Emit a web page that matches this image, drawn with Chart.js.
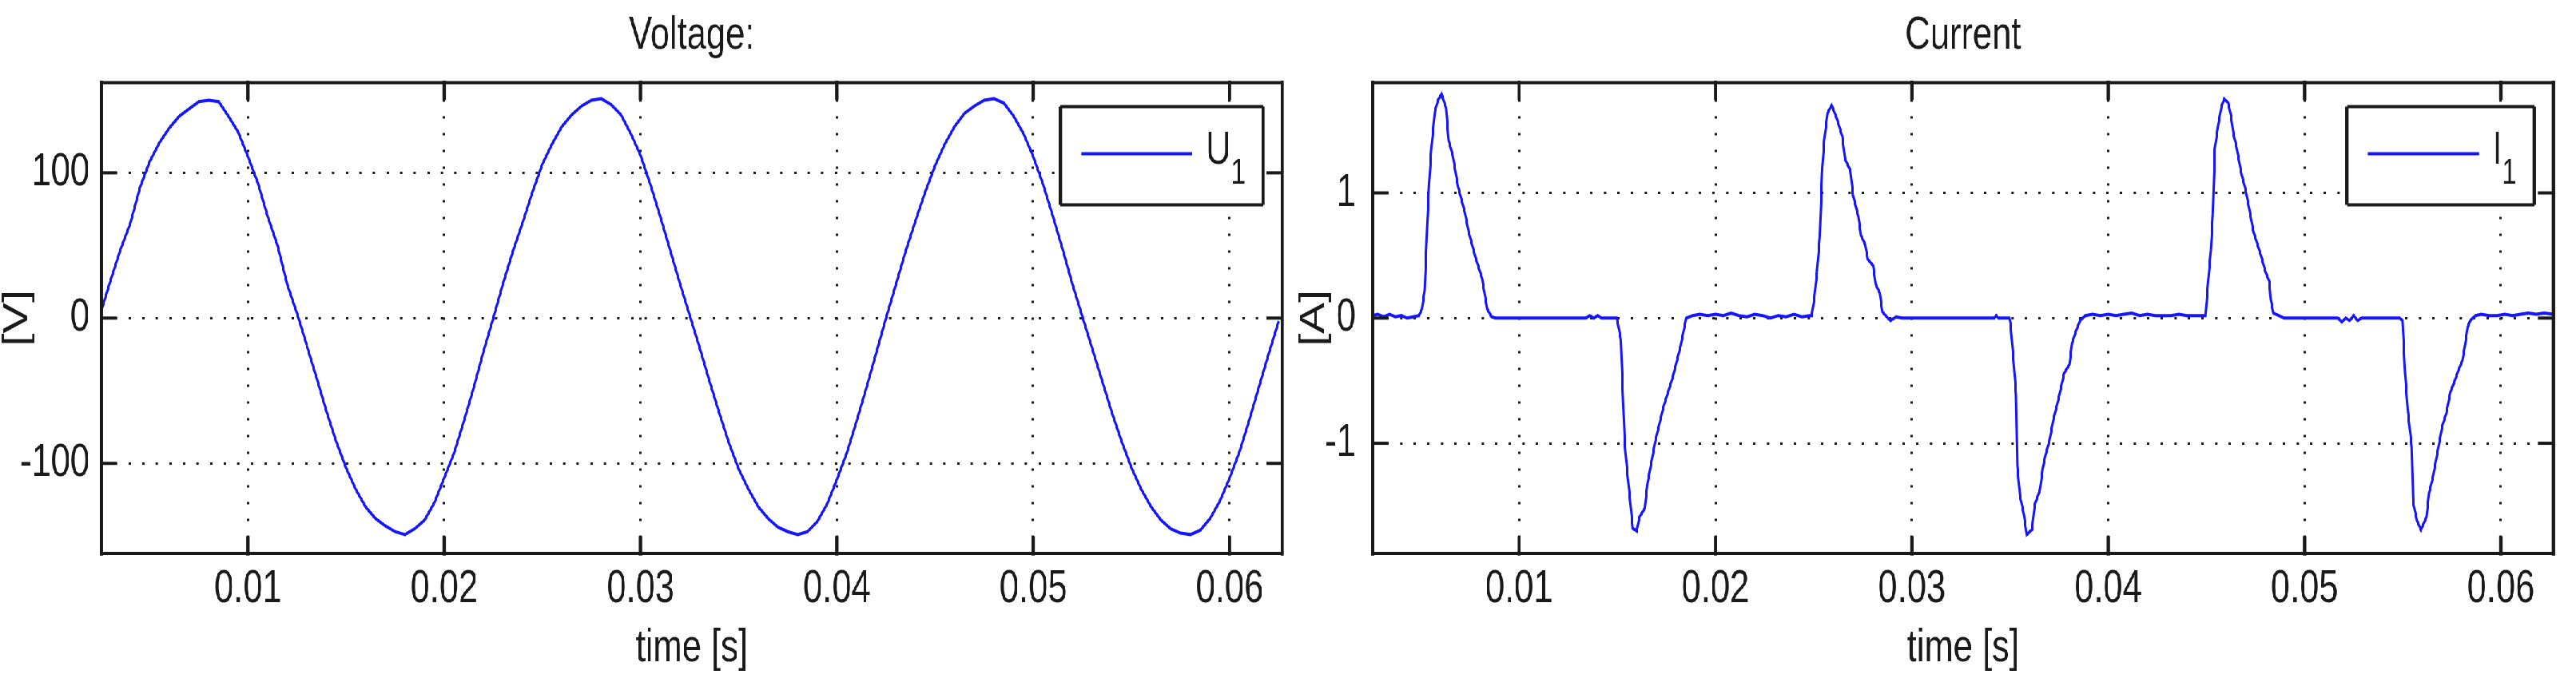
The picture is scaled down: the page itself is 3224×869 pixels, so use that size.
<!DOCTYPE html>
<html>
<head>
<meta charset="utf-8">
<title>Voltage / Current</title>
<script src="https://cdn.jsdelivr.net/npm/chart.js@4.4.1/dist/chart.umd.min.js"></script>
<style>
  html, body { margin: 0; padding: 0; background: #fff; overflow: hidden; }
  /* the source figure is a horizontally squeezed MATLAB export: draw wide, then squeeze */
  #squeeze { position: absolute; left: 0; top: 0; width: 4299px; height: 869px;
             transform: scaleX(0.75); transform-origin: 0 0; }
  .panel { position: absolute; top: 0; }
  #c-volt { left: 0; }
  #c-curr { left: 2149px; }
</style>
</head>
<body>
<div id="squeeze">
  <canvas id="c-volt" class="panel" width="2149" height="869"></canvas>
  <canvas id="c-curr" class="panel" width="2150" height="869"></canvas>
</div>
<script>
// ── Data ──────────────────────────────────────────────────────────

// shared time axis
const xMin = 0.00254;
const xMax = 0.06268;
const xTicks = [0.01, 0.02, 0.03, 0.04, 0.05, 0.06];
const xTickLabels = ['0.01', '0.02', '0.03', '0.04', '0.05', '0.06'];

// voltage U1 [V], sampled every 0.5 ms
const voltageTime = [
  0.0025, 0.0030, 0.0035, 0.0040, 0.0045, 0.0050, 0.0055, 0.0060, 0.0065, 0.0070,
  0.0075, 0.0080, 0.0085, 0.0090, 0.0095, 0.0100, 0.0105, 0.0110, 0.0115, 0.0120,
  0.0125, 0.0130, 0.0135, 0.0140, 0.0145, 0.0150, 0.0155, 0.0160, 0.0165, 0.0170,
  0.0175, 0.0180, 0.0185, 0.0190, 0.0195, 0.0200, 0.0205, 0.0210, 0.0215, 0.0220,
  0.0225, 0.0230, 0.0235, 0.0240, 0.0245, 0.0250, 0.0255, 0.0260, 0.0265, 0.0270,
  0.0275, 0.0280, 0.0285, 0.0290, 0.0295, 0.0300, 0.0305, 0.0310, 0.0315, 0.0320,
  0.0325, 0.0330, 0.0335, 0.0340, 0.0345, 0.0350, 0.0355, 0.0360, 0.0365, 0.0370,
  0.0375, 0.0380, 0.0385, 0.0390, 0.0395, 0.0400, 0.0405, 0.0410, 0.0415, 0.0420,
  0.0425, 0.0430, 0.0435, 0.0440, 0.0445, 0.0450, 0.0455, 0.0460, 0.0465, 0.0470,
  0.0475, 0.0480, 0.0485, 0.0490, 0.0495, 0.0500, 0.0505, 0.0510, 0.0515, 0.0520,
  0.0525, 0.0530, 0.0535, 0.0540, 0.0545, 0.0550, 0.0555, 0.0560, 0.0565, 0.0570,
  0.0575, 0.0580, 0.0585, 0.0590, 0.0595, 0.0600, 0.0605, 0.0610, 0.0615, 0.0620,
  0.0625
];
const voltageValues = [
     4,   26,   47,   65,   90,  108,  121,  131,  139,  144,
   149,  150,  149,  139,  128,  111,   93,   70,   50,   23,
     3,  -19,  -41,  -64,  -85, -103, -118, -130, -138, -143,
  -147, -149, -145, -139, -127, -110,  -93,  -71,  -48,  -23,
     0,   24,   46,   66,   87,  106,  120,  132,  140,  146,
   150,  151,  147,  140,  127,  112,   92,   70,   47,   24,
     2,  -20,  -43,  -65,  -86, -104, -118, -130, -138, -144,
  -147, -149, -147, -140, -128, -111,  -93,  -71,  -48,  -24,
     0,   23,   46,   67,   87,  105,  120,  132,  141,  146,
   150,  151,  148,  139,  127,  111,   92,   70,   47,   23,
     1,  -21,  -43,  -65,  -85, -103, -118, -130, -139, -145,
  -148, -149, -146, -138, -126, -110,  -92,  -70,  -47,  -24,
    -2
];
const voltageTicks = [-100, 0, 100];
const voltageTickLabels = ['-100', '0', '100'];

// current I1 [A]
const currentTime = [
  0.00254, 0.0028, 0.0031, 0.0034, 0.0037, 0.0040, 0.0043, 0.0046, 0.0049,
  0.00505, 0.00519, 0.00533, 0.00542, 0.00553, 0.00571, 0.00587, 0.00605, 0.00628, 0.00641,
  0.00662, 0.00689, 0.00723, 0.00743, 0.00777, 0.00811, 0.00838, 0.0086, 0.0088,
  0.0134, 0.0136, 0.0138, 0.0140, 0.0142,
  0.01497, 0.01504, 0.01518, 0.01524, 0.01538, 0.01552, 0.01565, 0.01579, 0.01599,
  0.01613, 0.01640, 0.01654, 0.01694, 0.01735, 0.01783, 0.01823, 0.01851, 0.01884,
  0.0192, 0.0196, 0.0200, 0.0204, 0.0208, 0.0212, 0.0216, 0.0220,
  0.0224, 0.0228, 0.0232, 0.0236, 0.0240, 0.0244, 0.0248,
  0.02490, 0.02503, 0.02517, 0.02531, 0.02544, 0.02554, 0.02571, 0.02592, 0.02619, 0.02646,
  0.02660, 0.02687, 0.02701, 0.02728, 0.02741, 0.02762, 0.02776, 0.02803, 0.02816, 0.02837,
  0.02850, 0.02878, 0.02891, 0.0292, 0.0295,
  0.0342, 0.0343, 0.0344,
  0.03497, 0.03503, 0.03517, 0.03531, 0.03537, 0.03551, 0.03571, 0.03585, 0.03612, 0.03626, 0.03653,
  0.03667, 0.03680, 0.03701, 0.03721, 0.03748, 0.03776, 0.03803, 0.03816, 0.03837, 0.03857, 0.03884,
  0.0392, 0.0396, 0.0400, 0.0404, 0.0408, 0.0412, 0.0416, 0.0420,
  0.0424, 0.0428, 0.0432, 0.0436, 0.0440, 0.0444, 0.0448,
  0.04496, 0.04509, 0.04523, 0.04533, 0.04543, 0.04560, 0.04577, 0.04591, 0.04611, 0.04625, 0.04638, 0.04652,
  0.04679, 0.04699, 0.04720, 0.04740, 0.04760, 0.04780, 0.04801, 0.04821, 0.04828, 0.04841, 0.04869, 0.04896,
  0.0517, 0.0519, 0.0521, 0.0523, 0.0525, 0.0527, 0.0529, 0.05485,
  0.05499, 0.05512, 0.05526, 0.05546, 0.05553, 0.05573, 0.05593, 0.05621, 0.05634, 0.05654, 0.05682,
  0.05702, 0.05722, 0.05743, 0.05763, 0.05783, 0.05804, 0.05817, 0.05831, 0.05844, 0.05871,
  0.0590, 0.0594, 0.0598, 0.0602, 0.0606, 0.0610, 0.0614, 0.0618, 0.0622, 0.0627
];
const currentValues = [
  0.02, 0.03, 0.01, 0.03, 0.01, 0.02, 0.00, 0.01, 0.02,
  0.07, 0.22, 0.78, 1.08, 1.35, 1.65, 1.74, 1.79, 1.68, 1.42,
  1.30, 1.05, 0.85, 0.69, 0.49, 0.32, 0.07, 0.01, 0.00,
  0.00, 0.02, 0.00, 0.02, 0.00,
  0.00, -0.05, -0.17, -0.42, -1.00, -1.25, -1.45, -1.68, -1.70,
  -1.59, -1.52, -1.32, -0.98, -0.71, -0.47, -0.22, 0.00, 0.02,
  0.03, 0.02, 0.03, 0.02, 0.04, 0.02, 0.01, 0.03,
  0.02, 0.00, 0.02, 0.01, 0.03, 0.01, 0.02,
  0.02, 0.15, 0.37, 0.64, 1.20, 1.42, 1.64, 1.70, 1.59, 1.45,
  1.27, 1.18, 0.98, 0.81, 0.66, 0.59, 0.47, 0.42, 0.27, 0.20,
  0.05, 0.00, -0.02, 0.01, 0.00,
  0.00, 0.02, 0.00,
  0.00, -0.05, -0.32, -0.61, -1.18, -1.42, -1.57, -1.73, -1.69, -1.49, -1.37,
  -1.20, -1.10, -0.98, -0.81, -0.64, -0.44, -0.37, -0.20, -0.10, -0.02, 0.02,
  0.03, 0.02, 0.03, 0.02, 0.03, 0.04, 0.02, 0.03,
  0.02, 0.02, 0.02, 0.03, 0.02, 0.02, 0.02,
  0.02, 0.29, 0.54, 0.83, 1.35, 1.54, 1.69, 1.75, 1.72, 1.62, 1.47, 1.38,
  1.15, 1.03, 0.86, 0.69, 0.59, 0.49, 0.37, 0.29, 0.15, 0.04, 0.02, 0.00,
  0.00, -0.03, 0.00, -0.02, 0.02, -0.02, 0.00, 0.00,
  -0.02, -0.44, -0.74, -1.03, -1.47, -1.62, -1.69, -1.59, -1.40, -1.27, -1.03,
  -0.86, -0.76, -0.59, -0.51, -0.42, -0.34, -0.22, -0.07, -0.02, 0.02,
  0.03, 0.02, 0.02, 0.03, 0.02, 0.03, 0.04, 0.03, 0.04, 0.03
];
const currentTicks = [-1, 0, 1];
const currentTickLabels = ['-1', '0', '1'];


// ── Look ─────────────────────────────────────────────────────────
const SQ = 0.75;                                   // same factor as the CSS scaleX
const FONT = "'Liberation Sans', Arial, sans-serif";
const INK = '#1a1a1a';
const BLUE = '#1515ff';
const FS = 58;


// Frame, with MATLAB style inward ticks on all four sides
const matlabFrame = {
  id: 'matlabFrame',
  afterDatasetsDraw(chart) {
    const { ctx, chartArea: a, scales: { x, y } } = chart;
    const seg = (x1, y1, x2, y2) => {
      ctx.beginPath(); ctx.moveTo(x1, y1); ctx.lineTo(x2, y2); ctx.stroke();
    };
    ctx.save();
    ctx.strokeStyle = INK;
    ctx.lineCap = 'square';

    ctx.lineWidth = 4;
    seg(a.left, a.top, a.right, a.top);
    seg(a.left, a.bottom, a.right, a.bottom);
    y.ticks.forEach(t => {
      const py = y.getPixelForValue(t.value);
      seg(a.left, py, a.left + 18 / SQ, py);
      seg(a.right, py, a.right - 18 / SQ, py);
    });

    ctx.lineWidth = 4 / SQ;
    seg(a.left, a.top, a.left, a.bottom);
    seg(a.right, a.top, a.right, a.bottom);
    x.ticks.forEach(t => {
      const px = x.getPixelForValue(t.value);
      seg(px, a.bottom, px, a.bottom - 19);
      seg(px, a.top, px, a.top + 19);
    });
    ctx.restore();
  }
};

// Legend box inside the plot, top right, last character as subscript
const insideLegend = {
  id: 'insideLegend',
  afterDraw(chart) {
    const { ctx, chartArea: a } = chart;
    const ds = chart.data.datasets[0];
    const main = ds.label.slice(0, -1);
    const sub = ds.label.slice(-1);

    ctx.save();
    ctx.font = `${FS}px ${FONT}`;
    const wMain = ctx.measureText(main).width;
    ctx.font = `44px ${FONT}`;
    const wSub = ctx.measureText(sub).width;

    const padL = 26 / SQ, lineLen = 139 / SQ, gap = 17 / SQ, padR = 22 / SQ;
    const w = padL + lineLen + gap + wMain + wSub + padR;
    const h = 123;
    const right = a.right - 24 / SQ;
    const top = a.top + 30;
    const left = right - w;

    ctx.fillStyle = '#fff';
    ctx.fillRect(left, top, w, h);

    ctx.strokeStyle = INK;
    ctx.lineWidth = 4;
    ctx.beginPath();
    ctx.moveTo(left, top); ctx.lineTo(right, top);
    ctx.moveTo(left, top + h); ctx.lineTo(right, top + h);
    ctx.stroke();
    ctx.lineWidth = 4 / SQ;
    ctx.beginPath();
    ctx.moveTo(left, top); ctx.lineTo(left, top + h);
    ctx.moveTo(right, top); ctx.lineTo(right, top + h);
    ctx.stroke();

    ctx.strokeStyle = ds.borderColor;
    ctx.lineWidth = ds.borderWidth;
    ctx.beginPath();
    ctx.moveTo(left + padL, top + 59);
    ctx.lineTo(left + padL + lineLen, top + 59);
    ctx.stroke();

    const tx = left + padL + lineLen + gap;
    ctx.fillStyle = INK;
    ctx.textAlign = 'left';
    ctx.textBaseline = 'alphabetic';
    ctx.font = `${FS}px ${FONT}`;
    ctx.fillText(main, tx, top + 71);
    ctx.font = `44px ${FONT}`;
    ctx.fillText(sub, tx + wMain, top + 96);
    ctx.restore();
  }
};


// ── One panel ────────────────────────────────────────────────────
function makePanel(canvasId, p) {
  const points = p.times.map((t, i) => ({ x: t, y: p.values[i] }));

  return new Chart(document.getElementById(canvasId), {
    type: 'line',
    data: {
      datasets: [{
        label: p.label,
        data: points,
        borderColor: BLUE,
        borderWidth: 4,
        pointRadius: 0,
        tension: 0,
        fill: false
      }]
    },
    options: {
      responsive: false,
      animation: false,
      events: [],
      layout: { padding: { left: p.padLeft, right: p.padRight, top: 0, bottom: 0 } },
      plugins: {
        legend: { display: false },
        tooltip: { enabled: false },
        title: {
          display: true,
          text: p.title,
          fullSize: false,
          color: INK,
          font: { family: FONT, size: FS, weight: 'normal', lineHeight: 1.2 },
          padding: { top: 10, bottom: 24 }
        }
      },
      scales: {
        x: {
          type: 'linear',
          min: xMin,
          max: xMax,
          afterBuildTicks: s => { s.ticks = xTicks.map(v => ({ value: v })); },
          afterFit: s => { s.height = 176; s.paddingLeft = 0; s.paddingRight = 0; },
          ticks: {
            autoSkip: false,
            maxRotation: 0,
            padding: 10,
            color: INK,
            font: { family: FONT, size: FS, lineHeight: 1.2 },
            callback: (v, i) => xTickLabels[i]
          },
          grid: { drawTicks: false, color: INK, lineWidth: 3 / SQ },
          border: { display: false, dash: [3, 18] },
          title: {
            display: true,
            text: 'time [s]',
            color: INK,
            font: { family: FONT, size: FS, lineHeight: 1.2 },
            padding: { top: 0, bottom: 22 }
          }
        },
        y: {
          min: p.yMin,
          max: p.yMax,
          afterBuildTicks: s => { s.ticks = p.yTicks.map(v => ({ value: v })); },
          afterFit: s => { s.width = p.yWidth; s.paddingTop = 0; s.paddingBottom = 0; },
          ticks: {
            padding: p.tickPad,
            color: INK,
            font: { family: FONT, size: FS },
            callback: (v, i) => p.yLabels[i]
          },
          grid: { drawTicks: false, color: INK, lineWidth: 3 },
          border: { display: false, dash: [3 / SQ, 14 / SQ] },
          title: {
            display: true,
            text: p.yTitle,
            color: INK,
            font: { family: FONT, size: FS, lineHeight: 1 },
            padding: { top: 0, bottom: 0 }
          }
        }
      }
    },
    plugins: [matlabFrame, insideLegend]
  });
}


document.addEventListener('DOMContentLoaded', () => {

  makePanel('c-volt', {
    title: 'Voltage:',
    label: 'U1',
    yTitle: '[V]',
    times: voltageTime,
    values: voltageValues,
    yMin: -162, yMax: 162,
    yTicks: voltageTicks,
    yLabels: voltageTickLabels,
    padLeft: 0, padRight: 9, yWidth: 169.3, tickPad: 20
  });

  makePanel('c-curr', {
    title: 'Current',
    label: 'I1',
    yTitle: '[A]',
    times: currentTime,
    values: currentValues,
    yMin: -1.88, yMax: 1.88,
    yTicks: currentTicks,
    yLabels: currentTickLabels,
    padLeft: 15, padRight: 37.7, yWidth: 126.7, tickPad: 28
  });

});
</script>
</body>
</html>
